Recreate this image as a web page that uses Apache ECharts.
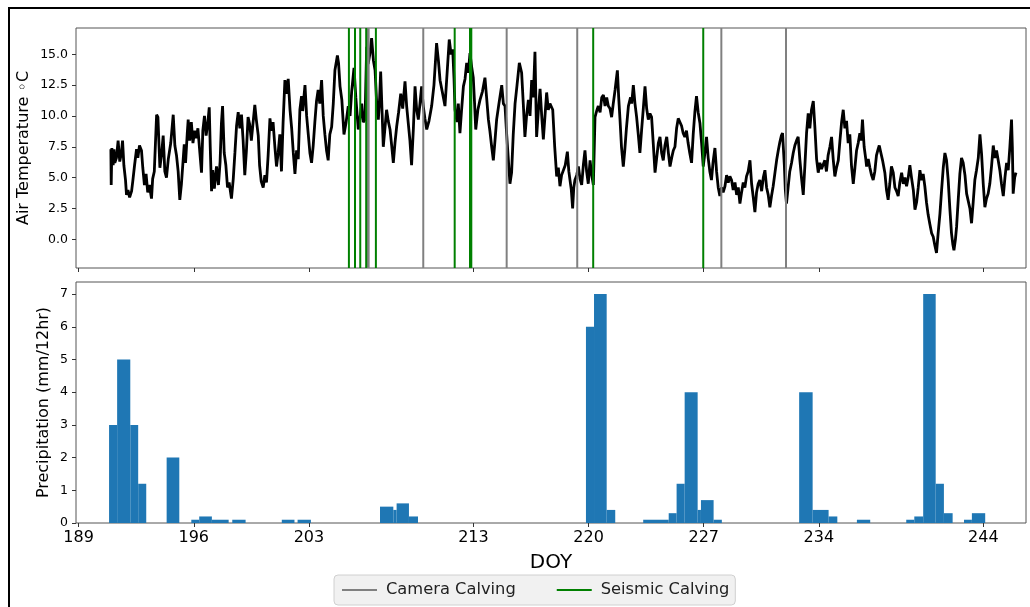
<!DOCTYPE html>
<html>
<head>
<meta charset="utf-8">
<script src="https://cdn.jsdelivr.net/npm/echarts@6/dist/echarts.min.js"></script>
<style>
html,body{margin:0;padding:0;background:#fff;}
#chart{width:1030px;height:607px;}
</style>
</head>
<body>
<div id="chart"></div>
<script>
// ---- Air temperature (DOY, °C) ----
const tempDoy = [
190.96,190.98,191.02,191.1,191.15,191.2,191.3,191.4,191.5,191.6,191.67,191.75,191.85,191.91,192.0,192.1,192.22,192.3,192.4,192.52,192.6,192.7,192.82,192.9,193.0,193.1,193.2,193.3,193.43,193.5,193.6,193.74,193.82,193.94,194.05,194.14,194.24,194.34,194.45,194.6,194.75,194.85,194.95,195.05,195.15,195.25,195.42,195.5,195.6,195.66,195.75,195.85,195.95,196.05,196.15,196.25,196.37,196.47,196.55,196.65,196.75,196.85,196.94,197.0,197.08,197.15,197.25,197.38,197.5,197.6,197.68,197.75,197.85,197.95,198.05,198.15,198.29,198.4,198.5,198.6,198.7,198.8,198.9,199.0,199.1,199.2,199.3,199.4,199.5,199.6,199.71,199.8,199.92,200.0,200.1,200.22,200.32,200.42,200.52,200.63,200.72,200.82,200.93,201.03,201.13,201.23,201.33,201.43,201.54,201.62,201.74,201.85,201.95,202.05,202.15,202.25,202.35,202.45,202.55,202.62,202.76,202.86,202.96,203.06,203.16,203.26,203.36,203.46,203.56,203.66,203.77,203.87,203.97,204.07,204.17,204.27,
204.38,204.48,204.58,204.73,204.8,204.89,205.0,205.13,205.25,205.39,205.5,205.6,205.74,205.85,206.0,206.1,206.21,206.3,206.41,206.51,206.6,206.7,206.81,206.92,207.02,207.12,207.22,207.3,207.36,207.45,207.52,207.62,207.72,207.82,207.93,208.03,208.13,208.23,208.33,208.45,208.58,208.7,208.84,208.94,209.04,209.14,209.24,209.35,209.45,209.55,209.65,209.75,209.85,209.95,210.05,210.16,210.3,210.46,210.6,210.76,210.87,210.97,211.1,211.27,211.4,211.53,211.64,211.74,211.82,211.88,212.0,212.08,212.18,212.28,212.39,212.49,212.59,212.69,212.79,212.89,212.99,213.07,213.14,213.27,213.4,213.55,213.7,213.8,213.91,214.0,214.1,214.21,214.31,214.41,214.55,214.72,214.82,214.92,215.02,215.12,215.22,215.32,215.42,215.53,215.65,215.79,215.93,216.03,216.13,216.23,216.34,216.44,216.54,216.64,216.74,216.84,216.95,217.05,217.15,217.25,217.35,217.45,217.55,217.65,217.82,217.94,218.06,218.16,218.26,218.36,218.46,218.58,218.71,218.8,218.87,218.95,219.03,219.1,219.17,219.28,219.38,219.48,219.58,219.68,219.78,219.88,219.98,220.09,220.19,220.29,220.39,220.49,220.59,220.7,220.8,220.9,221.0,221.1,221.2,221.3,221.4,221.5,221.61,221.75,221.83,221.91,222.0,222.11,222.2,222.3,222.42,222.55,222.62,222.72,222.82,222.92,223.02,223.12,223.22,223.32,223.43,223.53,223.63,223.73,223.83,223.93,224.04,224.14,224.24,224.34,224.44,224.54,224.64,224.75,224.85,224.95,225.05,225.15,225.25,225.35,225.45,
225.55,225.65,225.75,225.85,225.95,226.05,226.15,226.26,226.36,226.46,226.56,226.66,226.77,226.87,226.97,227.07,227.17,227.27,227.37,227.47,227.57,227.68,227.78,227.88,227.98,228.08,228.18,228.29,228.39,228.49,228.59,228.69,228.79,228.9,229.0,229.1,229.2,229.3,229.4,229.5,229.6,229.7,229.81,229.91,230.01,230.11,230.21,230.31,230.41,230.52,230.62,230.72,230.82,230.92,231.02,231.12,231.22,231.33,231.43,231.53,231.63,231.72,231.79,231.9,231.96,232.03,232.13,232.23,232.34,232.44,232.54,232.64,232.74,232.84,232.94,233.05,233.15,233.25,233.35,233.45,233.55,233.66,233.76,233.86,233.96,234.06,234.16,234.26,234.36,234.46,234.56,234.67,234.77,234.87,234.97,235.07,235.18,235.28,235.38,235.48,235.58,235.68,235.78,235.88,235.98,236.09,236.19,236.29,236.39,236.49,236.57,236.65,236.75,236.85,236.9,237.0,237.1,237.2,237.3,237.4,237.5,237.6,237.67,237.77,237.87,238.01,238.11,238.21,238.31,238.41,238.52,238.62,238.72,238.82,238.92,239.03,239.13,239.23,239.33,239.43,239.53,239.63,239.74,239.84,239.94,240.04,240.14,240.24,240.34,240.44,240.54,240.64,240.75,240.85,240.95,241.05,241.15,241.25,241.36,241.46,241.56,241.66,241.76,241.86,241.96,242.06,242.14,242.21,242.3,242.37,242.47,242.57,242.67,242.77,242.88,242.98,243.08,243.18,243.28,243.38,243.48,243.58,243.69,243.79,243.89,243.99,244.09,244.19,244.29,244.39,244.5,244.6,244.7,244.8,244.9,245.0,245.1,245.21,245.31,245.41,245.51,245.61,245.71,245.76,245.81,245.9,245.98
];
const tempC = [
7.3,4.4,7.4,6.0,7.3,6.2,6.6,8.0,6.3,7.0,8.0,6.0,4.8,3.6,4.0,3.4,3.9,4.8,6.0,7.3,6.6,7.6,7.2,5.8,4.4,5.3,3.8,4.4,3.3,4.9,5.5,10.1,9.9,5.8,7.0,8.4,5.5,5.0,6.5,7.8,10.1,7.6,6.8,5.5,3.2,4.5,7.7,6.2,8.5,9.7,8.0,9.5,7.8,8.8,8.2,9.0,7.0,5.4,8.8,10.0,8.4,9.4,10.7,7.5,3.9,5.6,4.1,5.9,4.4,6.3,9.4,10.8,7.0,6.0,4.2,4.6,3.3,4.9,7.0,9.2,10.3,9.0,10.1,8.0,5.2,7.2,9.9,9.3,8.0,9.4,10.9,9.7,8.4,6.0,4.7,4.2,5.2,4.6,6.8,9.8,8.8,9.5,7.5,5.9,7.0,8.5,5.5,9.5,12.9,11.8,13.0,10.5,9.0,7.0,5.3,7.2,6.5,10.5,11.6,10.4,12.5,10.0,8.5,7.0,6.2,7.6,9.5,11.2,12.1,11.0,12.9,10.0,8.5,7.2,6.4,8.5,
9.1,11.0,13.7,14.9,14.3,12.4,11.3,8.5,9.4,10.8,10.0,12.0,13.9,11.5,8.9,9.8,11.0,9.5,9.7,15.6,14.2,15.0,16.3,14.5,13.7,11.0,9.7,11.5,13.6,10.2,7.5,9.0,10.5,9.6,8.9,7.6,6.2,7.8,9.1,10.3,11.8,10.6,12.8,10.8,9.4,8.0,6.0,9.0,12.4,10.5,9.7,11.0,12.4,10.8,9.8,8.9,9.6,10.8,12.5,15.9,14.5,12.9,12.0,10.8,13.5,16.2,15.0,15.4,13.0,10.5,9.5,11.0,8.6,10.5,12.4,13.0,14.3,13.5,15.1,14.0,13.1,11.0,8.9,10.5,11.3,12.0,13.1,11.5,9.7,8.8,7.6,6.4,8.0,9.7,11.0,12.5,11.0,10.8,8.5,6.5,4.5,5.4,8.5,11.0,12.5,14.3,13.5,11.0,8.3,10.0,11.3,10.0,12.9,11.5,15.2,8.3,10.5,12.2,10.0,8.1,10.0,11.9,10.5,11.0,10.5,7.5,5.1,5.8,4.3,5.2,5.1,6.0,7.1,5.5,4.8,4.0,2.5,4.2,4.8,5.2,5.9,4.9,4.4,6.0,7.2,5.5,4.5,6.4,5.2,4.4,9.9,10.4,10.8,10.3,11.5,11.7,10.8,11.5,10.8,10.6,9.9,11.0,12.1,13.7,11.5,9.7,7.5,5.9,7.2,9.0,10.8,11.5,11.0,12.5,11.0,9.9,8.5,7.0,8.8,10.5,12.4,10.6,9.7,10.2,9.9,7.8,5.4,6.6,7.8,8.3,7.0,6.4,7.6,8.3,7.0,5.9,6.6,7.2,7.5,9.0,9.8,
9.7,9.2,8.6,8.3,8.8,7.8,7.0,6.2,8.5,10.3,11.6,10.3,9.4,7.8,5.9,7.0,8.3,6.6,5.5,4.8,6.3,7.4,5.5,4.2,3.5,4.2,3.8,4.3,5.2,4.6,5.1,4.8,4.0,4.6,3.6,4.2,2.9,3.8,4.6,4.2,5.1,5.5,6.4,4.5,3.4,2.2,3.8,4.5,4.8,3.9,5.0,5.6,4.2,3.6,2.6,3.5,4.3,5.4,6.4,7.2,7.9,8.4,8.6,6.0,4.0,2.9,4.2,5.5,6.2,7.0,7.6,8.0,8.3,6.5,5.0,3.6,6.0,8.6,10.2,9.0,10.5,11.2,9.0,6.5,5.4,6.2,5.7,5.6,6.4,5.5,6.8,7.5,8.3,6.5,5.1,5.8,6.4,8.0,9.5,10.5,9.0,9.6,7.8,8.5,6.0,4.5,5.8,7.2,7.8,8.6,8.0,9.7,7.5,6.5,5.9,6.5,5.8,5.2,4.8,5.5,6.8,7.3,7.6,7.0,6.4,5.4,4.0,3.2,4.5,5.9,5.4,4.2,3.9,3.5,4.6,5.4,4.5,5.0,4.3,5.0,6.0,5.0,4.0,2.4,3.0,4.2,5.6,4.8,5.3,4.3,3.0,2.0,1.2,0.5,0.2,-0.5,-1.1,0.5,2.1,4.0,5.8,7.0,6.4,4.8,2.5,0.5,-0.4,-0.9,0.0,1.0,3.2,5.3,6.6,6.2,5.2,3.7,3.8,2.5,1.3,3.0,4.8,5.6,6.6,8.5,6.9,4.5,2.6,3.3,3.7,4.5,6.0,7.6,6.6,7.2,6.4,5.6,4.5,3.5,5.0,6.2,5.6,7.5,9.7,7.5,3.7,5.0,5.4
];

// ---- Calving events (DOY) ----
const cameraCalving  = [206.56, 206.63, 209.95, 215.02, 219.31, 228.07, 232.0];
const seismicCalving = [205.43, 205.80, 206.12, 206.48, 207.07, 211.86, 212.79, 212.87, 220.28, 226.97];

// ---- Precipitation bars (start DOY, end DOY, mm/12hr) ----
const precipStart = [190.85,191.34,192.14,192.62,194.35,195.85,196.33,197.1,198.34,201.35,202.31,207.32,208.13,208.33,209.08,219.84,220.33,221.1,223.32,224.87,225.35,225.84,226.63,226.83,227.6,232.8,233.62,234.59,236.31,239.31,239.8,240.34,241.1,241.6,242.82,243.3];
const precipEnd   = [191.34,192.14,192.62,193.11,195.12,196.33,197.1,198.12,199.15,202.12,203.12,208.13,208.33,209.08,209.63,220.33,221.1,221.62,224.87,225.35,225.84,226.63,226.83,227.6,228.1,233.62,234.59,235.12,237.12,239.8,240.34,241.1,241.6,242.13,243.3,244.11];
const precipVal   = [3,5,3,1.2,2,0.1,0.2,0.1,0.1,0.1,0.1,0.5,0.4,0.6,0.2,6,7,0.4,0.1,0.3,1.2,4,0.4,0.7,0.1,4,0.4,0.2,0.1,0.1,0.2,7,1.2,0.3,0.1,0.3];

// ---- Tick labels ----
const xTicks = [189, 196, 203, 213, 220, 227, 234, 244];
const tempTicks = [0, 2.5, 5, 7.5, 10, 12.5, 15];
const precipTicks = [0, 1, 2, 3, 4, 5, 6, 7];

const FONT = 'DejaVu Sans';
const tempData = tempDoy.map((d, i) => [d, tempC[i]]);
const precipData = precipVal.map((v, i) => [precipStart[i], precipEnd[i], v]);

function vlineRender(color) {
  return function (params, api) {
    const cs = params.coordSys;
    const p = api.coord([api.value(0), 0]);
    return {
      type: 'line',
      shape: { x1: p[0], y1: cs.y, x2: p[0], y2: cs.y + cs.height },
      style: { stroke: color, lineWidth: 2 }
    };
  };
}

const xCommon = {
  type: 'value', min: 188.84, max: 246.59,
  splitLine: { show: false },
  axisLine: { show: false, onZero: false },
  axisTick: { show: true, inside: false, length: 4, lineStyle: { color: '#333' }, customValues: xTicks },
};

const chart = echarts.init(document.getElementById('chart'), null, { renderer: 'canvas' });
chart.setOption({
  animation: false,
  backgroundColor: '#fff',
  textStyle: { fontFamily: FONT },
  graphic: [{
    type: 'rect', shape: { x: 9, y: 8, width: 1100, height: 700 },
    style: { fill: 'none', stroke: '#000', lineWidth: 2 }, z: 100
  }],
  grid: [
    { left: 76, right: 4, top: 28, height: 240, show: true, borderColor: '#555', borderWidth: 1, backgroundColor: 'transparent' },
    { left: 76, right: 4, top: 282, height: 241, show: true, borderColor: '#555', borderWidth: 1, backgroundColor: 'transparent' }
  ],
  legend: {
    left: 334, top: 575,
    data: [
      { name: 'Camera Calving', icon: 'rect' },
      { name: 'Seismic Calving', icon: 'rect' }
    ],
    itemWidth: 35, itemHeight: 2, itemGap: 41,
    textStyle: { fontFamily: FONT, fontSize: 16.3, color: '#222', padding: [0, 0, 0, 4] },
    backgroundColor: 'rgba(240,240,240,0.9)', borderColor: '#d0d0d0', borderWidth: 1, borderRadius: 4,
    padding: [7, 6, 7, 8]
  },
  xAxis: [
    Object.assign({}, xCommon, { gridIndex: 0, axisLabel: { show: false } }),
    Object.assign({}, xCommon, {
      gridIndex: 1,
      name: 'DOY', nameLocation: 'middle', nameGap: 30,
      nameTextStyle: { fontFamily: FONT, fontSize: 20, color: '#000' },
      axisLabel: { show: true, customValues: xTicks, fontFamily: FONT, fontSize: 16, color: '#000', margin: 7 }
    })
  ],
  yAxis: [
    {
      type: 'value', gridIndex: 0, min: -2.33, max: 17.13,
      splitLine: { show: false }, axisLine: { show: false, onZero: false },
      axisTick: { show: true, length: 4, lineStyle: { color: '#333' }, customValues: tempTicks },
      axisLabel: { customValues: tempTicks, formatter: v => v.toFixed(1), fontFamily: FONT, fontSize: 12.5, color: '#000', margin: 8 },
      name: 'Air Temperature ◦C', nameLocation: 'middle', nameGap: 44, nameMoveOverlap: false,
      nameTextStyle: { fontFamily: FONT, fontSize: 16, color: '#000' }
    },
    {
      type: 'value', gridIndex: 1, min: 0, max: 7.37,
      splitLine: { show: false }, axisLine: { show: false, onZero: false },
      axisTick: { show: true, length: 4, lineStyle: { color: '#333' }, customValues: precipTicks },
      axisLabel: { customValues: precipTicks, fontFamily: FONT, fontSize: 12.5, color: '#000', margin: 8 },
      name: 'Precipitation (mm/12hr)', nameLocation: 'middle', nameGap: 24, nameMoveOverlap: false,
      nameTextStyle: { fontFamily: FONT, fontSize: 16, color: '#000' }
    }
  ],
  series: [
    {
      name: 'Air Temperature', type: 'line', xAxisIndex: 0, yAxisIndex: 0,
      data: tempData, showSymbol: false, symbol: 'none',
      lineStyle: { color: '#000', width: 2.8 }, z: 2
    },
    {
      name: 'Camera Calving', type: 'custom', xAxisIndex: 0, yAxisIndex: 0,
      data: cameraCalving.map(d => [d]), renderItem: vlineRender('#808080'),
      itemStyle: { color: '#808080' }, z: 3
    },
    {
      name: 'Seismic Calving', type: 'custom', xAxisIndex: 0, yAxisIndex: 0,
      data: seismicCalving.map(d => [d]), renderItem: vlineRender('#008000'),
      itemStyle: { color: '#008000' }, z: 4
    },
    {
      name: 'Precipitation', type: 'custom', xAxisIndex: 1, yAxisIndex: 1,
      data: precipData,
      encode: { x: [0, 1], y: 2 },
      renderItem: function (params, api) {
        const p0 = api.coord([api.value(0), api.value(2)]);
        const p1 = api.coord([api.value(1), 0]);
        return {
          type: 'rect',
          shape: { x: p0[0], y: p0[1], width: p1[0] - p0[0], height: p1[1] - p0[1] },
          style: { fill: '#1f77b4' }
        };
      }
    }
  ]
});
</script>
</body>
</html>
